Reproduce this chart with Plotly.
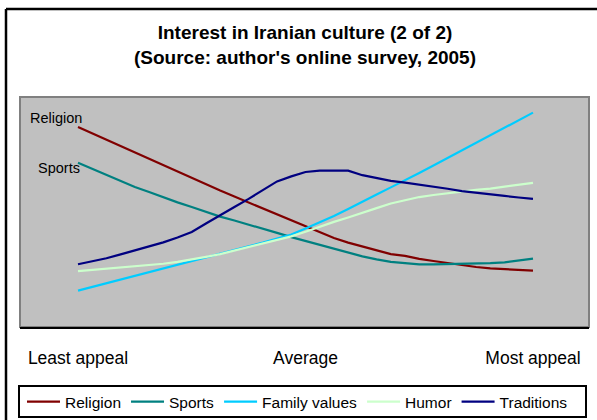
import plotly.graph_objects as go

# 33 evenly spaced points from "Least appeal" (0) to "Most appeal" (32)
positions = list(range(33))
tick_positions = [0, 16, 32]
tick_labels = ["Least appeal", "Average", "Most appeal"]

religion = [87.0, 84.2, 81.4, 78.6, 75.8, 73.0, 70.2, 67.5, 64.7, 62.0, 59.3, 56.7, 54.1,
            51.5, 48.9, 46.3, 43.7, 41.3, 38.7, 36.7, 35.0, 33.3, 31.7, 30.9, 29.6, 28.7,
            27.8, 27.0, 26.1, 25.5, 25.1, 24.8, 24.5]
sports = [71.4, 68.7, 66.1, 63.5, 60.9, 58.7, 56.4, 54.2, 52.2, 50.0, 48.0, 46.3, 44.4,
          42.6, 40.9, 39.1, 37.4, 35.5, 33.8, 32.2, 30.7, 29.4, 28.3, 27.8, 27.2, 27.2,
          27.3, 27.4, 27.6, 27.8, 28.1, 28.9, 29.7]
family_values = [15.8, 17.4, 19.0, 20.7, 22.3, 23.9, 25.5, 27.2, 28.8, 30.2, 31.7, 33.3, 35.0,
                 36.7, 38.5, 40.2, 42.8, 45.4, 48.3, 51.3, 54.6, 57.6, 60.7, 63.7, 67.0, 70.2,
                 73.5, 76.7, 80.0, 83.3, 86.5, 89.8, 93.2]
humor = [24.3, 24.8, 25.2, 25.7, 26.2, 26.8, 27.5, 28.3, 29.3, 30.5, 31.7, 33.3, 34.8,
         36.3, 37.8, 39.4, 41.4, 43.6, 45.7, 47.6, 49.8, 51.7, 53.7, 55.1, 56.5, 57.4,
         58.2, 58.9, 59.6, 60.2, 61.0, 61.9, 62.7]
traditions = [27.3, 28.6, 29.9, 31.6, 33.3, 35.0, 36.8, 38.9, 41.3, 45.0, 48.7, 52.2, 55.7,
              59.6, 63.3, 65.5, 67.4, 68.0, 68.0, 68.0, 66.0, 64.6, 63.5, 62.8, 62.0, 61.1,
              60.1, 59.1, 58.3, 57.6, 57.0, 56.3, 55.7]

series = [
    ("Religion", religion, "#800000"),
    ("Sports", sports, "#008080"),
    ("Family values", family_values, "#00CCFF"),
    ("Humor", humor, "#CCFFCC"),
    ("Traditions", traditions, "#000080"),
]

FONT = "Liberation Sans, Arial, sans-serif"

fig = go.Figure()
for name, vals, color in series:
    fig.add_trace(go.Scatter(x=positions, y=vals, name=name, mode="lines",
                             line=dict(color=color, width=2.2)))

# inline labels at the first point
fig.add_annotation(x=0, y=90.9, xref="x", yref="y", text="Religion", showarrow=False,
                   xanchor="right", yanchor="middle", xshift=6,
                   font=dict(family=FONT, size=14.5, color="black"))
fig.add_annotation(x=0, y=69.1, xref="x", yref="y", text="Sports", showarrow=False,
                   xanchor="right", yanchor="middle", xshift=4,
                   font=dict(family=FONT, size=14.5, color="black"))

W, H = 597, 420
L, R, T, B = 20, 8, 97, 93
pw, ph = W - L - R, H - T - B

def px_x(px):
    return (px - L) / pw

def px_y(py):
    return (H - B - py) / ph

shapes = [
    # plot area
    dict(type="rect", xref="paper", yref="paper", x0=0, x1=1, y0=0, y1=1,
         line=dict(color="#808080", width=2), fillcolor="#C0C0C0", layer="below"),
    # white strip along the right edge of the picture
    dict(type="rect", xref="paper", yref="paper", x0=px_x(590.5), x1=px_x(605), y0=px_y(430), y1=px_y(-10),
         line=dict(width=0), fillcolor="white", layer="above"),
    # outer chart frame (left and top edges; the rest lies outside the picture)
    dict(type="line", xref="paper", yref="paper", x0=px_x(6), x1=px_x(6), y0=px_y(9), y1=px_y(440),
         line=dict(color="black", width=2.5), layer="above"),
    dict(type="line", xref="paper", yref="paper", x0=px_x(6), x1=px_x(620), y0=px_y(9), y1=px_y(9),
         line=dict(color="black", width=2.5), layer="above"),
    # legend frame
    dict(type="rect", xref="paper", yref="paper", x0=px_x(19), x1=px_x(586), y0=px_y(417), y1=px_y(386),
         line=dict(color="black", width=2), fillcolor="rgba(0,0,0,0)", layer="above"),
]

fig.update_layout(
    width=W, height=H,
    margin=dict(l=L, r=R, t=T, b=B, pad=0, autoexpand=False),
    paper_bgcolor="white",
    plot_bgcolor="#C0C0C0",
    shapes=shapes,
    title=dict(text="<b>Interest in Iranian culture (2 of 2)<br>(Source: author's online survey, 2005)</b>",
               x=px_x(305), xref="paper", xanchor="center",
               y=1 - 39 / H, yref="container", yanchor="middle",
               font=dict(family=FONT, size=19, color="black")),
    xaxis=dict(range=[-4.079, 35.939], tickmode="array", tickvals=tick_positions, ticktext=tick_labels,
               showgrid=False, zeroline=False, showline=True, linecolor="black", linewidth=2,
               ticks="", ticklabelstandoff=14,
               tickfont=dict(family=FONT, size=17.5, color="black")),
    yaxis=dict(range=[0, 100], showgrid=False, zeroline=False, showticklabels=False, ticks=""),
    showlegend=True,
    legend=dict(orientation="h", x=px_x(22), xanchor="left", y=px_y(402), yanchor="middle",
                font=dict(family=FONT, size=15.5, color="black"), bgcolor="rgba(0,0,0,0)",
                borderwidth=0, itemwidth=33, traceorder="normal"),
    font=dict(family=FONT, color="black"),
)

fig.write_html(
    "out.html",
    config={"displayModeBar": False},
    post_script=(
        "document.documentElement.style.margin='0px';"
        "document.body.style.margin='0px';"
        "document.documentElement.style.overflow='hidden';"
        "document.body.style.overflow='hidden';"
    ),
)
